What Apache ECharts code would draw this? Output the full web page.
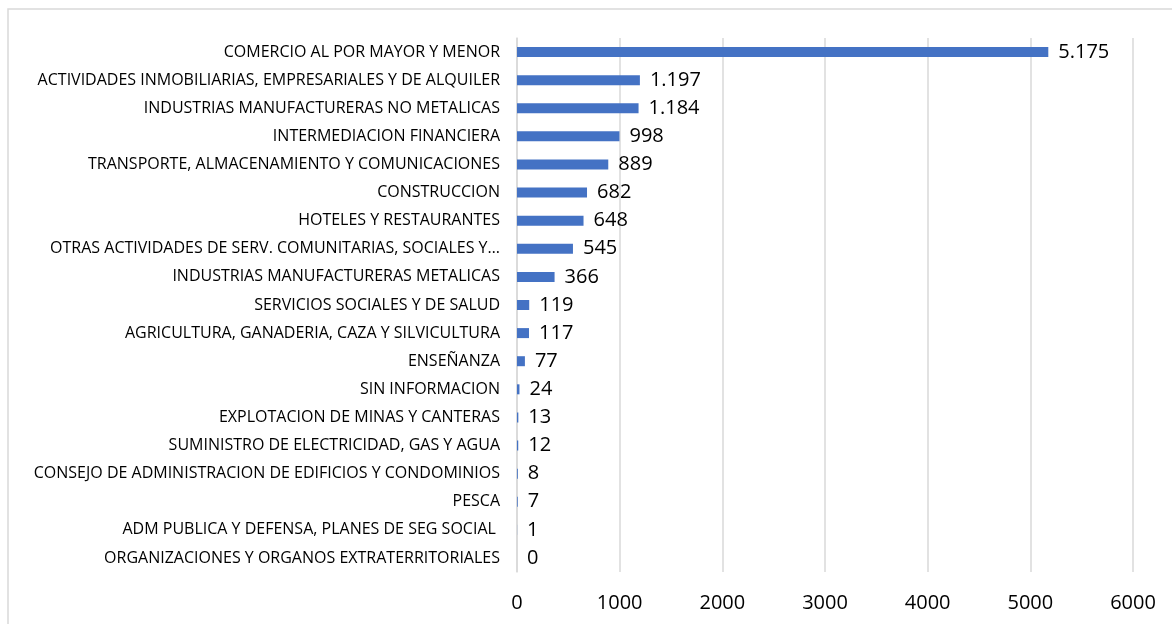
<!DOCTYPE html>
<html>
<head>
<meta charset="utf-8">
<script src="https://cdn.jsdelivr.net/npm/echarts@6/dist/echarts.min.js"></script>
<style>
  html, body { margin: 0; padding: 0; background: #fff; }
  #chart { width: 1172px; height: 624px; }
</style>
</head>
<body>
<div id="chart"></div>
<script>
// sectores económicos (de arriba hacia abajo)
const sectores = [
  'COMERCIO AL POR MAYOR Y MENOR',
  'ACTIVIDADES INMOBILIARIAS, EMPRESARIALES Y DE ALQUILER',
  'INDUSTRIAS MANUFACTURERAS NO METALICAS',
  'INTERMEDIACION FINANCIERA',
  'TRANSPORTE, ALMACENAMIENTO Y COMUNICACIONES',
  'CONSTRUCCION',
  'HOTELES Y RESTAURANTES',
  'OTRAS ACTIVIDADES DE SERV. COMUNITARIAS, SOCIALES Y…',
  'INDUSTRIAS MANUFACTURERAS METALICAS',
  'SERVICIOS SOCIALES Y DE SALUD',
  'AGRICULTURA, GANADERIA, CAZA Y SILVICULTURA',
  'ENSEÑANZA',
  'SIN INFORMACION',
  'EXPLOTACION DE MINAS Y CANTERAS',
  'SUMINISTRO DE ELECTRICIDAD, GAS Y AGUA',
  'CONSEJO DE ADMINISTRACION DE EDIFICIOS Y CONDOMINIOS',
  'PESCA',
  'ADM PUBLICA Y DEFENSA, PLANES DE SEG SOCIAL ',
  'ORGANIZACIONES Y ORGANOS EXTRATERRITORIALES'
];
const cantidades = [5175, 1197, 1184, 998, 889, 682, 648, 545, 366, 119, 117, 77, 24, 13, 12, 8, 7, 1, 0];
const ejeMin = 0;
const ejeMax = 6000;
const ejePaso = 1000;

const chart = echarts.init(document.getElementById('chart'));

// separador de miles con punto
function formatoMiles(v) {
  return String(v).replace(/\B(?=(\d{3})+(?!\d))/g, '.');
}

chart.setOption({
  animation: false,
  textStyle: { fontFamily: 'Open Sans' },
  graphic: [
    {
      type: 'rect',
      shape: { x: 8, y: 9, width: 1170, height: 630 },
      style: { fill: 'none', stroke: '#d9d9d9', lineWidth: 1.5 },
      silent: true
    }
  ],
  grid: {
    left: 517,
    right: 39,
    top: 38,
    bottom: 52
  },
  xAxis: {
    type: 'value',
    min: ejeMin,
    max: ejeMax,
    interval: ejePaso,
    axisLine: { show: false },
    axisTick: { show: false },
    splitLine: { lineStyle: { color: '#d9d9d9', width: 1.5 } },
    axisLabel: {
      color: '#000',
      fontSize: 20,
      margin: 21,
      formatter: function (v) { return String(v); }
    }
  },
  yAxis: {
    type: 'category',
    inverse: true,
    data: sectores,
    axisLine: { show: true, lineStyle: { color: '#d9d9d9', width: 1.5 } },
    axisTick: { show: false },
    axisLabel: { color: '#000', fontSize: 16, margin: 17 }
  },
  series: [
    {
      type: 'bar',
      data: cantidades,
      barWidth: 10,
      itemStyle: { color: '#4472C4' },
      label: {
        show: true,
        position: 'right',
        distance: 10,
        color: '#000',
        fontSize: 20,
        formatter: function (p) {
          return formatoMiles(p.value);
        }
      }
    }
  ]
});
</script>
</body>
</html>
